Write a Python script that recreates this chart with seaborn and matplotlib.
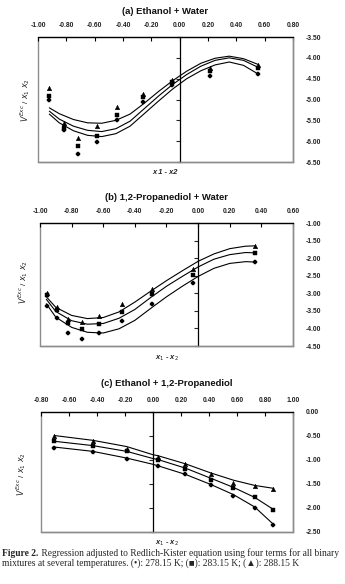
import numpy as np
import pandas as pd
import matplotlib
matplotlib.use("Agg")
import matplotlib.pyplot as plt
import seaborn as sns
from matplotlib.patches import Rectangle

# ---------------- data ----------------
temps = ["278.15 K", "283.15 K", "288.15 K"]

# (a) Ethanol + Water : experimental points
a_z = [-0.92, -0.82, -0.715, -0.585, -0.44, -0.26, -0.055, 0.215, 0.555]
a_278 = [-5.00, -5.72, -6.30, -6.02, -5.49, -5.06, -4.65, -4.43, -4.38]
a_283 = [-4.91, -5.69, -6.12, -5.87, -5.38, -4.93, -4.58, -4.31, -4.24]
a_288 = [-4.72, -5.57, -5.92, -5.63, -5.17, -4.86, -4.53, -4.25, -4.16]
# (a) fitted Redlich-Kister curves
a_cz = [-0.92, -0.85, -0.75, -0.65, -0.55, -0.45, -0.35, -0.25, -0.15,
        -0.05, 0.05, 0.15, 0.25, 0.35, 0.45, 0.555]
a_c278 = [-5.35, -5.56, -5.75, -5.86, -5.89, -5.82, -5.64, -5.34, -5.04,
          -4.75, -4.50, -4.31, -4.17, -4.10, -4.18, -4.39]
a_c283 = [-5.28, -5.47, -5.64, -5.74, -5.77, -5.70, -5.52, -5.22, -4.92,
          -4.64, -4.40, -4.20, -4.06, -4.00, -4.06, -4.23]
a_c288 = [-5.20, -5.34, -5.48, -5.56, -5.57, -5.50, -5.35, -5.09, -4.81,
          -4.55, -4.32, -4.13, -4.01, -3.96, -4.02, -4.16]

# (b) 1,2-Propanediol + Water
b_z = [-0.958, -0.89, -0.82, -0.736, -0.625, -0.483, -0.293, -0.03, 0.36]
b_278 = [-3.35, -3.71, -4.12, -4.29, -4.14, -3.79, -3.30, -2.72, -2.12]
b_283 = [-3.04, -3.47, -3.85, -4.02, -3.87, -3.53, -3.01, -2.47, -1.86]
b_288 = [-2.99, -3.38, -3.74, -3.83, -3.66, -3.31, -2.88, -2.31, -1.66]
b_cz = [-0.96, -0.9, -0.8, -0.7, -0.6, -0.5, -0.4, -0.3, -0.2, -0.1,
        0.0, 0.1, 0.2, 0.3, 0.36]
b_c278 = [-3.30, -3.68, -3.97, -4.11, -4.13, -4.01, -3.77, -3.43, -3.10,
          -2.80, -2.52, -2.29, -2.15, -2.10, -2.11]
b_c283 = [-3.17, -3.52, -3.78, -3.88, -3.86, -3.71, -3.46, -3.12, -2.80,
          -2.52, -2.25, -2.03, -1.90, -1.84, -1.85]
b_c288 = [-3.10, -3.40, -3.63, -3.72, -3.69, -3.53, -3.25, -2.94, -2.64,
          -2.36, -2.09, -1.88, -1.73, -1.66, -1.65]

# (c) Ethanol + 1,2-Propanediol
c_z = [-0.705, -0.43, -0.188, 0.035, 0.232, 0.413, 0.574, 0.727, 0.86]
c_278 = [-0.74, -0.84, -0.97, -1.13, -1.30, -1.53, -1.74, -1.99, -2.35]
c_283 = [-0.61, -0.71, -0.82, -0.99, -1.19, -1.41, -1.58, -1.77, -2.05]
c_288 = [-0.50, -0.61, -0.77, -0.94, -1.09, -1.29, -1.48, -1.55, -1.60]
c_cz = [-0.705, -0.43, -0.188, 0.0, 0.035, 0.232, 0.413, 0.574, 0.727, 0.86]
c_c278 = [-0.73, -0.82, -0.96, -1.09, -1.12, -1.30, -1.51, -1.72, -1.98, -2.34]
c_c283 = [-0.61, -0.70, -0.82, -0.97, -0.99, -1.17, -1.38, -1.57, -1.78, -2.03]
c_c288 = [-0.49, -0.59, -0.72, -0.89, -0.91, -1.08, -1.27, -1.42, -1.53, -1.59]

titles = ["(a) Ethanol + Water", "(b) 1,2-Propanediol + Water",
          "(c) Ethanol + 1,2-Propanediol"]
xlabels = ["x 1 - x2", r"x$_1$ - x$_2$", r"x$_1$ - x$_2$"]
ylabel = r"$V^{Exc}$ / $x_1\ x_2$"
caption_bold = "Figure 2."
caption_1 = " Regression adjusted to Redlich-Kister equation using four terms for all binary"
caption_2 = "mixtures at several temperatures. (\u2022): 278.15 K; (\u25a0): 283.15 K; (\u25b2): 288.15 K"

# ---------------- style ----------------
sns.set_style("white")
plt.rcParams["font.family"] = ["Liberation Sans", "DejaVu Sans"]
plt.rcParams["axes.unicode_minus"] = False

W, H = 345, 584
fig = plt.figure(figsize=(W / 100, H / 100), dpi=100)

def px_axes(l, r, t, b):
    return fig.add_axes([l / W, 1 - b / H, (r - l) / W, (b - t) / H])

markers = {"278.15 K": "P", "283.15 K": "s", "288.15 K": "^"}
sizes = {"278.15 K": 10, "283.15 K": 9, "288.15 K": 11}

def panel(ax, z, pts, cz, curves, xlim, xticks, ylim, yticks):
    pdf = pd.DataFrame({"z": np.tile(z, 3),
                        "v": np.concatenate(pts),
                        "T": np.repeat(temps, len(z))})
    cdf = pd.DataFrame({"z": np.tile(cz, 3),
                        "v": np.concatenate(curves),
                        "T": np.repeat(temps, len(cz))})
    sns.lineplot(data=cdf, x="z", y="v", units="T", estimator=None,
                 color="black", lw=0.8, ax=ax, legend=False)
    for t in temps:
        sub = pdf[pdf["T"] == t]
        sns.scatterplot(data=sub, x="z", y="v", marker=markers[t], s=sizes[t],
                        color="black", edgecolor="black", linewidth=0.3,
                        ax=ax, legend=False, zorder=5)
    ax.set_xlim(*xlim)
    ax.set_ylim(*ylim)
    ax.set_xlabel("")
    ax.set_ylabel("")
    ax.set_xticks(xticks)
    ax.set_yticks(yticks)
    ax.set_xticklabels([f"{v + 0.0:.2f}" for v in np.round(xticks, 2)])
    ax.set_yticklabels([f"{v + 0.0:.2f}" for v in np.round(yticks, 2)])
    # frame
    for s in ["bottom", "right"]:
        ax.spines[s].set_color("#8c8c8c")
        ax.spines[s].set_linewidth(1.0)
    ax.spines["top"].set_color("black")
    ax.spines["top"].set_linewidth(0.9)
    ax.spines["left"].set_position(("data", 0))
    ax.spines["left"].set_color("black")
    ax.spines["left"].set_linewidth(0.9)
    ax.add_patch(Rectangle((0, 0), 1, 1, transform=ax.transAxes, fill=False,
                           ec="#8c8c8c", lw=1.0, zorder=0.5, clip_on=False))
    ax.xaxis.tick_top()
    ax.tick_params(axis="x", which="both", top=True, bottom=False,
                   labeltop=True, labelbottom=False, direction="in",
                   length=3, width=0.8, pad=6, labelsize=4.9,
                   colors="black")
    ax.tick_params(axis="y", left=True, right=False, labelleft=False,
                   labelright=True, direction="out", length=3, width=0.8,
                   pad=6, labelsize=4.9)
    for lab in ax.get_xticklabels() + ax.get_yticklabels():
        lab.set_fontweight("bold")
        lab.set_color("#222222")
    for lab in ax.get_yticklabels():
        lab.set_horizontalalignment("left")
    ax.grid(False)
    ax.set_facecolor("white")

boxes = [(38, 293, 37, 162), (40, 293, 223, 346), (41, 293, 412, 532)]
title_y = [12, 197, 384]
xlab_y = [172, 358, 543]
ylab_pos = [(25, 100), (23, 282), (21, 474)]

axes = [px_axes(*b) for b in boxes]
panel(axes[0], a_z, [a_278, a_283, a_288], a_cz, [a_c278, a_c283, a_c288],
      (-1.0, 0.8), np.arange(-1.0, 0.81, 0.2), (-6.5, -3.5),
      np.arange(-6.5, -3.49, 0.5))
panel(axes[1], b_z, [b_278, b_283, b_288], b_cz, [b_c278, b_c283, b_c288],
      (-1.0, 0.6), np.arange(-1.0, 0.61, 0.2), (-4.5, -1.0),
      np.arange(-4.5, -0.99, 0.5))
panel(axes[2], c_z, [c_278, c_283, c_288], c_cz, [c_c278, c_c283, c_c288],
      (-0.8, 1.0), np.arange(-0.8, 1.01, 0.2), (-2.5, 0.0),
      np.arange(-2.5, 0.01, 0.5))

for i, b in enumerate(boxes):
    cx = (b[0] + b[1]) / 2
    fig.text(cx / W, 1 - title_y[i] / H, titles[i], ha="center", va="center",
             fontsize=6.8, fontweight="bold", color="#111111")
    fig.text(cx / W, 1 - xlab_y[i] / H, xlabels[i], ha="center", va="center",
             fontsize=5.4, fontweight="bold", style="italic", color="#222222")
    fig.text(ylab_pos[i][0] / W, 1 - ylab_pos[i][1] / H, ylabel, ha="center",
             va="center", rotation=90, fontsize=5.8, color="#222222")

# caption
serif = ["Liberation Serif", "DejaVu Serif"]
fig.canvas.draw()
r = fig.canvas.get_renderer()
tb = fig.text(2 / W, 1 - 553 / H, caption_bold, ha="left", va="center",
              fontsize=6.85, fontweight="bold", family=serif)
bb = tb.get_window_extent(renderer=r)
fig.text((bb.x1 + 0.5) / W, 1 - 553 / H, caption_1, ha="left", va="center",
         fontsize=6.85, family=serif)
fig.text(2 / W, 1 - 563.5 / H, caption_2, ha="left", va="center",
         fontsize=6.85, family=serif)

fig.savefig("out.png", dpi=100, facecolor="white")
